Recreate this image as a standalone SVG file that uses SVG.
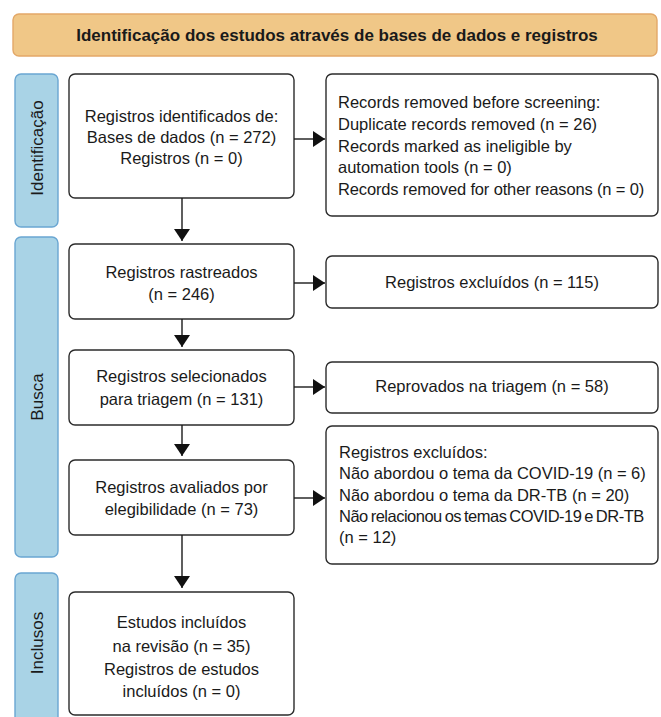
<svg xmlns="http://www.w3.org/2000/svg" width="661" height="717" viewBox="0 0 661 717">
<defs>
<style>
.box{fill:#fff;stroke:#2b2b2b;stroke-width:1.4}
.side{fill:#a9d3e6;stroke:#6aa6d2;stroke-width:1.4}
.hdr{fill:#f0c787;stroke:#e3a868;stroke-width:1.4}
text{font-family:"Liberation Sans",Arial,sans-serif;font-size:16.5px;fill:#1a1a1a}
.c{text-anchor:middle}
.b{font-weight:bold;font-size:17px}
.e{stroke:#1a1a1a;stroke-width:1.4;fill:none}
</style>
<marker id="ah" viewBox="0 0 12 16" refX="12" refY="8" markerWidth="12" markerHeight="16" markerUnits="userSpaceOnUse" orient="auto">
<path d="M0,0 L12,8 L0,16 Z" fill="#111"/>
</marker>
</defs>
<rect width="661" height="717" fill="#fff"/>
<g id="header">
<rect class="hdr" x="13" y="14" width="644" height="42" rx="6"/>
<text class="c b" x="337" y="41">Identificação dos estudos através de bases de dados e registros</text>
</g>
<g id="side-identificacao">
<rect class="side" x="15" y="74" width="43" height="153" rx="6"/>
<text class="c" transform="translate(43,148) rotate(-90)" style="font-size:17px">Identificação</text>
</g>
<g id="side-busca">
<rect class="side" x="15" y="237" width="43" height="320" rx="6"/>
<text class="c" transform="translate(43,397) rotate(-90)" style="font-size:17px">Busca</text>
</g>
<g id="side-inclusos">
<rect class="side" x="15" y="573" width="43" height="150" rx="6"/>
<text class="c" transform="translate(43,643) rotate(-90)" style="font-size:17px">Inclusos</text>
</g>
<g id="n1">
<rect class="box" x="69" y="74" width="225" height="124" rx="6"/>
<text class="c" x="181.5" y="122">Registros identificados de:</text>
<text class="c" x="181.5" y="143">Bases de dados (n = 272)</text>
<text class="c" x="181.5" y="164">Registros (n = 0)</text>
</g>
<g id="n1r">
<rect class="box" x="326" y="74" width="332" height="142" rx="6"/>
<text x="338" y="108">Records removed before screening:</text>
<text x="338" y="130">Duplicate records removed (n = 26)</text>
<text x="338" y="152">Records marked as ineligible by</text>
<text x="338" y="173">automation tools (n = 0)</text>
<text x="338" y="195" style="letter-spacing:-0.15px">Records removed for other reasons (n = 0)</text>
</g>
<g id="n2">
<rect class="box" x="69" y="244" width="225" height="75" rx="6"/>
<text class="c" x="181.5" y="278">Registros rastreados</text>
<text class="c" x="181.5" y="300">(n = 246)</text>
</g>
<g id="n2r">
<rect class="box" x="326" y="256" width="332" height="52" rx="6"/>
<text class="c" x="492" y="288">Registros excluídos (n = 115)</text>
</g>
<g id="n3">
<rect class="box" x="69" y="350" width="225" height="75" rx="6"/>
<text class="c" x="181.5" y="382">Registros selecionados</text>
<text class="c" x="181.5" y="405">para triagem (n = 131)</text>
</g>
<g id="n3r">
<rect class="box" x="326" y="362" width="332" height="51" rx="6"/>
<text class="c" x="492" y="392">Reprovados na triagem (n = 58)</text>
</g>
<g id="n4">
<rect class="box" x="69" y="460" width="225" height="75" rx="6"/>
<text class="c" x="181.5" y="493">Registros avaliados por</text>
<text class="c" x="181.5" y="515">elegibilidade (n = 73)</text>
</g>
<g id="n4r">
<rect class="box" x="326" y="426" width="332" height="138" rx="6"/>
<text x="339" y="458">Registros excluídos:</text>
<text x="339" y="479">Não abordou o tema da COVID-19 (n = 6)</text>
<text x="339" y="501">Não abordou o tema da DR-TB (n = 20)</text>
<text x="339" y="522" style="letter-spacing:-0.5px;word-spacing:-1.2px">Não relacionou os temas COVID-19 e DR-TB</text>
<text x="339" y="543">(n = 12)</text>
</g>
<g id="n5">
<rect class="box" x="69" y="592" width="225" height="123" rx="6"/>
<text class="c" x="181.5" y="628">Estudos incluídos</text>
<text class="c" x="181.5" y="652">na revisão (n = 35)</text>
<text class="c" x="181.5" y="675">Registros de estudos</text>
<text class="c" x="181.5" y="697">incluídos (n = 0)</text>
</g>
<g id="connectors">
<line class="e" x1="182" y1="198" x2="182" y2="241" marker-end="url(#ah)"/>
<line class="e" x1="294" y1="139" x2="325" y2="139" marker-end="url(#ah)"/>
<line class="e" x1="182" y1="319" x2="182" y2="347" marker-end="url(#ah)"/>
<line class="e" x1="294" y1="283" x2="325" y2="283" marker-end="url(#ah)"/>
<line class="e" x1="182" y1="425" x2="182" y2="456" marker-end="url(#ah)"/>
<line class="e" x1="294" y1="387" x2="325" y2="387" marker-end="url(#ah)"/>
<line class="e" x1="182" y1="535" x2="182" y2="588" marker-end="url(#ah)"/>
<line class="e" x1="294" y1="498" x2="325" y2="498" marker-end="url(#ah)"/>
</g>
</svg>
